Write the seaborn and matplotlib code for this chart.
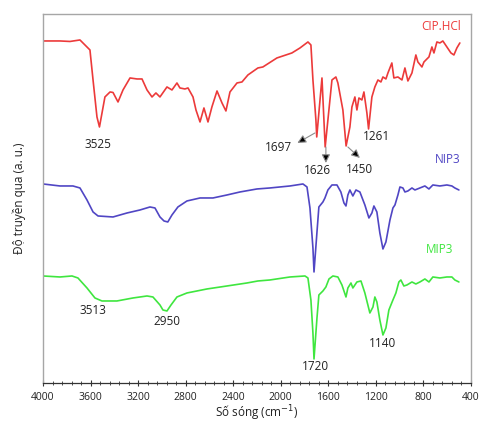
import numpy as np
import pandas as pd
import matplotlib
matplotlib.use("Agg")
import matplotlib.pyplot as plt
from matplotlib.ticker import MultipleLocator
import seaborn as sns

# FTIR spectra, transmittance in arbitrary units (curves are offset)
wn_cip = [4000, 3857, 3773, 3689, 3605, 3579, 3546, 3525, 3479, 3436, 3411, 3369, 3327, 3268,
          3209, 3167, 3125, 3083, 3050, 3016, 2957, 2915, 2873, 2848, 2806, 2780, 2738, 2713,
          2679, 2646, 2612, 2579, 2536, 2494, 2461, 2427, 2368, 2326, 2276, 2192, 2150, 2032,
          1906, 1838, 1771, 1746, 1729, 1704, 1697, 1653, 1626, 1569, 1536, 1519, 1477, 1450,
          1418, 1401, 1376, 1359, 1342, 1317, 1300, 1275, 1261, 1233, 1208, 1182, 1157, 1140,
          1115, 1098, 1065, 1048, 1014, 980, 955, 930, 896, 863, 846, 812, 795, 770, 753, 728,
          711, 686, 661, 636, 602, 568, 543, 518, 493]
t_cip = [342, 342, 341.5, 343, 333, 303, 266, 256, 286, 291, 290.5, 281, 293, 305,
         304, 304, 293, 286, 290, 286, 296, 293, 300, 295, 294, 295, 286, 273,
         261, 275, 261, 276, 292, 280, 272, 291, 300, 301, 308, 315, 316, 325,
         330, 335, 341, 338, 303, 263, 246, 305, 236, 303, 306, 300, 273, 237,
         256, 276, 286, 273, 285, 283, 291, 270, 254, 286, 296, 303, 301, 306,
         304, 310, 320, 305, 306, 303, 315, 302, 310, 328, 321, 316, 321, 324, 326, 336,
         330, 341, 340, 342, 336, 330, 328, 335, 340]

wn_nip = [4000, 3857, 3748, 3689, 3630, 3579, 3537, 3411, 3293, 3184, 3100, 3058, 3016, 2982,
          2950, 2915, 2865, 2789, 2679, 2570, 2452, 2343, 2200, 2091, 1922, 1813, 1779, 1754,
          1729, 1720, 1695, 1679, 1645, 1628, 1603, 1569, 1527, 1494, 1468, 1451, 1435, 1418,
          1393, 1367, 1334, 1292, 1258, 1233, 1216, 1191, 1166, 1140, 1115, 1081, 1056, 1039,
          1014, 997, 972, 955, 930, 896, 871, 829, 787, 753, 720, 661, 602, 560, 535, 501]
t_nip = [199, 197, 197, 195, 183, 171, 167, 166, 170, 173, 176, 175, 166, 162,
         161, 168, 176, 182, 185, 185, 188, 191, 194, 195, 197, 199, 196, 175,
         135, 111, 151, 176, 181, 185, 193, 198, 198, 191, 180, 177, 188, 193,
         187, 193, 191, 178, 165, 170, 177, 171, 150, 134, 141, 163, 175, 178,
         188, 196, 195, 191, 192, 195, 193, 195, 197, 194, 198, 197, 198, 197, 195, 193]

wn_mip = [4000, 3857, 3756, 3706, 3630, 3563, 3504, 3378, 3243, 3125, 3075, 3016, 2991, 2957,
          2923, 2873, 2789, 2621, 2452, 2284, 2192, 2091, 1922, 1796, 1771, 1746, 1729, 1720,
          1695, 1679, 1645, 1620, 1594, 1561, 1519, 1485, 1451, 1435, 1409, 1393, 1359, 1325,
          1292, 1250, 1224, 1208, 1191, 1166, 1140, 1115, 1090, 1056, 1031, 1006, 989, 964,
          938, 896, 863, 829, 787, 753, 720, 661, 602, 560, 535, 501]
t_mip = [107, 106, 107, 105, 95, 85, 82, 82, 85, 87, 86, 78, 73, 72,
         78, 86, 90, 94, 97, 100, 102, 103, 106, 107, 105, 83, 50, 24,
         65, 88, 92, 96, 104, 107, 106, 98, 86, 95, 100, 95, 101, 102,
         90, 70, 76, 86, 81, 63, 48, 55, 73, 83, 90, 101, 103, 97,
         98, 101, 99, 101, 104, 101, 106, 105, 106, 106, 103, 101]

series = ["CIP.HCl", "NIP3", "MIP3"]
colors = ["#ec3a3a", "#5046c4", "#3fe63f"]

sns.set_style("white")
plt.rcParams["font.family"] = ["Open Sans", "DejaVu Sans"]

fig, ax = plt.subplots(figsize=(4.81, 4.23), dpi=100)
fig.subplots_adjust(left=0.0894, right=0.979, top=0.967, bottom=0.0946)

for wn, t, c in zip([wn_cip, wn_nip, wn_mip], [t_cip, t_nip, t_mip], colors):
    df = pd.DataFrame({"wn": wn, "t": t})
    sns.lineplot(data=df, x="wn", y="t", color=c, linewidth=1.2, estimator=None, ax=ax)

ax.set_xlim(4000, 400)
ax.set_ylim(0, 369)
ax.xaxis.set_major_locator(MultipleLocator(400))
ax.xaxis.set_minor_locator(MultipleLocator(80))
ax.tick_params(axis="x", which="major", direction="inout", length=5, width=0.8,
               color="#333333", labelsize=7.5, labelcolor="#222222", pad=4, bottom=True)
ax.tick_params(axis="x", which="minor", direction="inout", length=3, width=0.6,
               color="#333333", bottom=True)
ax.set_yticks([])
for s in ["top", "left", "right"]:
    ax.spines[s].set_color("#a6a6a6")
    ax.spines[s].set_linewidth(1)
ax.spines["bottom"].set_color("#333333")
ax.spines["bottom"].set_linewidth(0.9)

ax.set_xlabel("Số sóng (cm$^{-1}$)", fontsize=8.5, labelpad=0, color="#222222")
ax.set_ylabel("Độ truyền qua (a. u.)", fontsize=8.5, labelpad=12, color="#222222")

# series names
ax.text(484, 356, "CIP.HCl", color=colors[0], fontsize=8.5, ha="right", va="center")
ax.text(484, 223, "NIP3", color=colors[1], fontsize=8.5, ha="right", va="center")
ax.text(551, 133, "MIP3", color=colors[2], fontsize=8.5, ha="right", va="center")

# peak labels
peaks = [("3525", 3535, 238), ("1697", 2015, 235), ("1626", 1687, 212), ("1450", 1334, 213),
         ("1261", 1191, 246), ("3513", 3579, 72), ("2950", 2957, 61), ("1720", 1712, 16),
         ("1140", 1140, 39)]
for lab, x, y in peaks:
    ax.text(x, y, lab, fontsize=8.5, ha="center", va="center", color="#222222")

arr = dict(arrowstyle="-|>,head_length=0.5,head_width=0.25", ec="#8c8c8c", fc="black",
           lw=0.8, shrinkA=0, shrinkB=0)
ax.annotate("", xy=(1860, 240), xytext=(1712, 250), arrowprops=arr)
ax.annotate("", xy=(1620, 220), xytext=(1620, 236), arrowprops=arr)
ax.annotate("", xy=(1334, 225), xytext=(1435, 236), arrowprops=arr)

fig.savefig("out.png", dpi=100)
